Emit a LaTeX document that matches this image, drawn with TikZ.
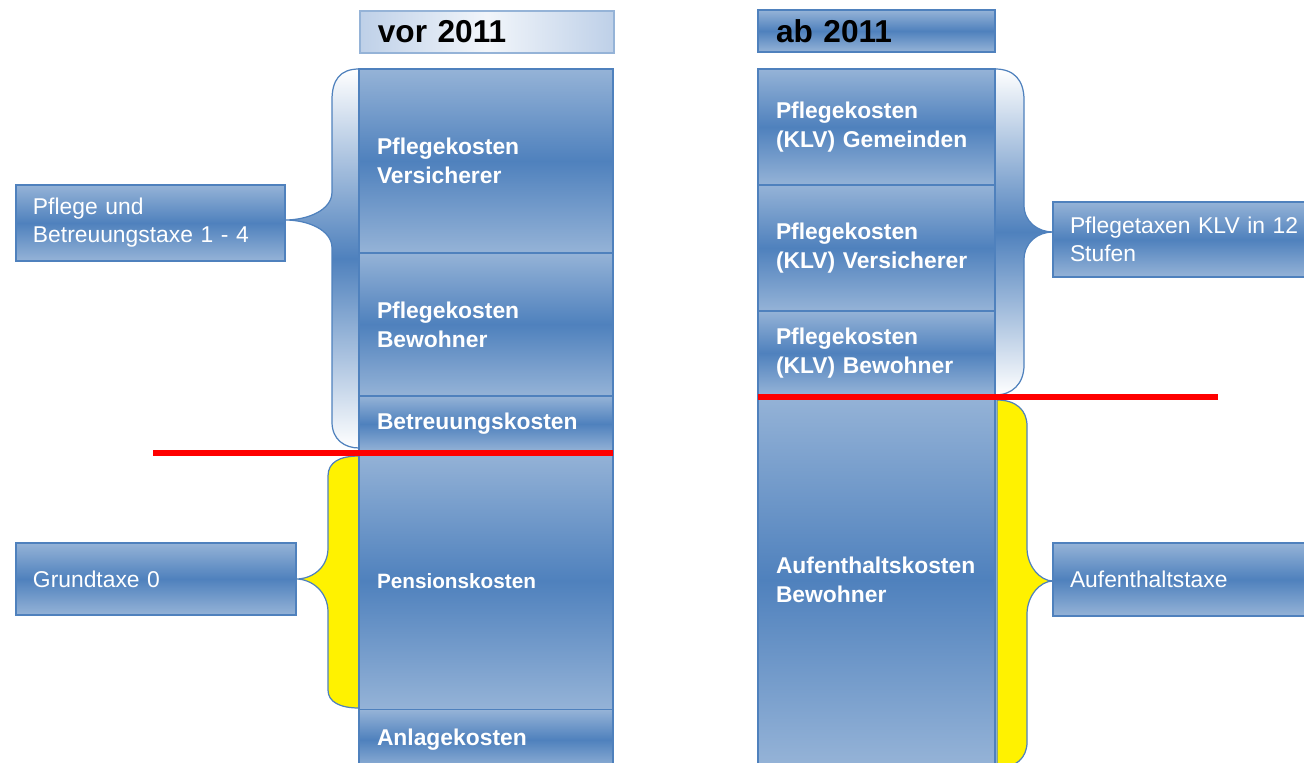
\documentclass[tikz,border=0pt]{standalone}
\usepackage{fontspec}
\setmainfont{Liberation Sans}
\usetikzlibrary{positioning}

\definecolor{boxblue}{RGB}{79,129,189}
\definecolor{lightblue}{RGB}{149,179,215}
\definecolor{paleblue}{RGB}{190,208,232}

\tikzset{
  costbox/.style={draw=boxblue, line width=0.7pt, top color=lightblue, bottom color=lightblue,
    middle color=boxblue, text=white, font=\fontsize{13}{16.5}\selectfont\bfseries,
    align=left, anchor=north west, inner xsep=0.36cm, inner ysep=0pt, outer sep=0pt},
  taxbox/.style={draw=boxblue, line width=0.7pt, top color=lightblue, bottom color=lightblue,
    middle color=boxblue, text=white, font=\fontsize{13}{16}\selectfont,
    align=left, anchor=north west, inner xsep=0.34cm, inner ysep=0pt, outer sep=0pt},
  yearfont/.style={text=black, font=\fontsize{18}{20}\selectfont\bfseries},
  bluebrace/.style={draw=boxblue, line width=0.7pt, top color=white, bottom color=white, middle color=boxblue},
  yellowbrace/.style={draw=boxblue, line width=0.7pt, fill=yellow},
  cut/.style={draw=red, line width=3.8pt}
}

\begin{document}
\begin{tikzpicture}[x=0.02cm, y=-0.02cm]
\useasboundingbox (0,0) rectangle (1304,763);
\clip (0,0) rectangle (1304,763);

% braces
\path[bluebrace] (359,69) .. controls (340,69) and (332,80) .. (332,100) -- (332,192)
  .. controls (332,210) and (308,220) .. (285,220) .. controls (308,220) and (332,230) .. (332,248)
  -- (332,422) .. controls (332,440) and (345,448) .. (359,448) -- cycle;
\path[yellowbrace] (359,456) .. controls (340,456) and (328,462) .. (328,476) -- (328,548)
  .. controls (328,568) and (312,579) .. (296,579) .. controls (312,579) and (328,592) .. (328,612)
  -- (328,690) .. controls (328,702) and (340,708) .. (359,708) -- cycle;
\path[bluebrace] (995,69) .. controls (1014,69) and (1024,80) .. (1024,100) -- (1024,205)
  .. controls (1024,222) and (1038,232) .. (1053,232) .. controls (1038,232) and (1024,242) .. (1024,260)
  -- (1024,365) .. controls (1024,384) and (1012,395) .. (995,395) -- cycle;
\path[yellowbrace] (997,400) .. controls (1016,400) and (1027,410) .. (1027,426) -- (1027,548)
  .. controls (1027,566) and (1040,581) .. (1053,581) .. controls (1040,581) and (1027,596) .. (1027,614)
  -- (1027,742) .. controls (1027,758) and (1016,768) .. (997,768) -- cycle;

% vor 2011
\node[draw=lightblue, line width=1pt, left color=paleblue, right color=paleblue,
  middle color=white!80!paleblue, yearfont, align=left, anchor=north west,
  inner xsep=0.36cm, inner ysep=0pt, text width=4.36cm, minimum height=0.84cm] (vor) at (359,10) {vor 2011};
\node[costbox, text width=4.36cm, minimum height=3.68cm] (pv) at (359,69) {Pflegekosten\\Versicherer};
\node[costbox, text width=4.36cm, minimum height=2.86cm, below=0pt of pv] (pb) {Pflegekosten\\Bewohner};
\node[costbox, text width=4.36cm, minimum height=1.12cm, below=0pt of pb] (bk) {Betreuungskosten};
\node[costbox, text width=4.36cm, minimum height=5.16cm, below=0pt of bk,
  font=\fontsize{11.8}{14}\selectfont\bfseries] (pk) {Pensionskosten};
\node[costbox, text width=4.36cm, minimum height=1.2cm, below=0pt of pk] (ak) {Anlagekosten};

% ab 2011
\node[costbox, yearfont, text width=4.02cm, minimum height=0.84cm] (ab) at (758,10) {ab 2011};
\node[costbox, text width=4.02cm, minimum height=2.32cm] (kg) at (758,69) {Pflegekosten\\(KLV) Gemeinden};
\node[costbox, text width=4.02cm, minimum height=2.52cm, below=0pt of kg] (kv) {Pflegekosten\\(KLV) Versicherer};
\node[costbox, text width=4.02cm, minimum height=1.68cm, below=0pt of kv] (kb) {Pflegekosten\\(KLV) Bewohner};
\node[costbox, text width=4.02cm, minimum height=7.4cm, below=0pt of kb] (ak2) {Aufenthaltskosten\\Bewohner};

% taxes
\node[taxbox, text width=4.7cm, minimum height=1.52cm] (pbt) at (16,185) {Pflege und\\Betreuungstaxe 1 - 4};
\node[taxbox, text width=4.92cm, minimum height=1.44cm] (gt) at (16,543) {Grundtaxe 0};
\node[taxbox, text width=4.8cm, minimum height=1.5cm] (ptk) at (1053,202) {Pflegetaxen KLV in 12\\Stufen};
\node[taxbox, text width=4.8cm, minimum height=1.46cm] (at) at (1053,543) {Aufenthaltstaxe};

% red lines
\coordinate (lcut) at (153,453);
\coordinate (rcut) at (1218,397);
\draw[cut] (lcut) -- (lcut -| bk.east);
\draw[cut] (rcut -| kb.west) -- (rcut);
\end{tikzpicture}
\end{document}
